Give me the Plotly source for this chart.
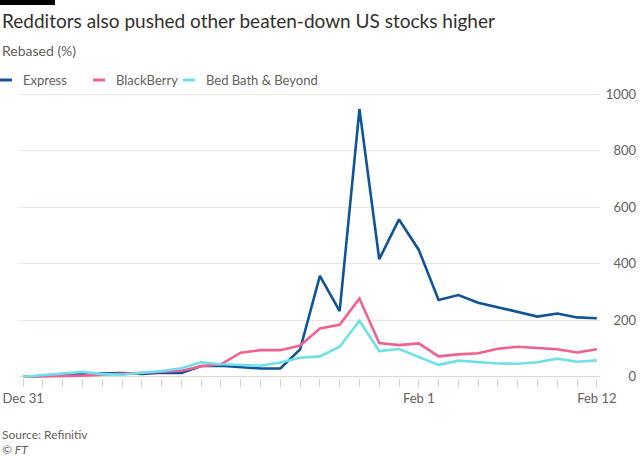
import plotly.graph_objects as go

dates = ["Dec 31", "Jan 4", "Jan 5", "Jan 6", "Jan 7", "Jan 8", "Jan 11", "Jan 12",
         "Jan 13", "Jan 14", "Jan 15", "Jan 19", "Jan 20", "Jan 21", "Jan 22",
         "Jan 25", "Jan 26", "Jan 27", "Jan 28", "Jan 29", "Feb 1", "Feb 2",
         "Feb 3", "Feb 4", "Feb 5", "Feb 8", "Feb 9", "Feb 10", "Feb 11", "Feb 12"]

express = [0, 2, 5, 9, 10, 13, 10, 14, 13, 38, 39, 34, 29, 29, 97, 357, 232, 948,
           416, 557, 449, 272, 289, 262, 245, 230, 213, 224, 210, 207]
blackberry = [0, 1, 2, 4, 7, 11, 15, 17, 21, 37, 44, 85, 94, 94, 110, 171, 184, 277,
              119, 112, 118, 72, 79, 83, 99, 106, 102, 97, 86, 97]
bedbath = [0, 5, 11, 17, 9, 7, 14, 20, 30, 51, 44, 41, 39, 50, 67, 72, 106, 198,
           91, 98, 71, 42, 57, 51, 47, 46, 51, 64, 53, 58]

series_names = ["Express", "BlackBerry", "Bed Bath & Beyond"]
series_values = [express, blackberry, bedbath]
series_colors = ["#0f5499", "#f2608f", "#6fe0eb"]

x_labels = {"Dec 31": "Dec 31", "Feb 1": "Feb 1", "Feb 12": "Feb 12"}
y_ticks = [0, 200, 400, 600, 800, 1000]

W, H = 640, 457
FONT = "Lato"
GREY = "#66605c"

fig = go.Figure()
for name, vals, col in zip(series_names, series_values, series_colors):
    fig.add_trace(go.Scatter(
        x=list(range(len(dates))), y=vals, name=name, mode="lines",
        line=dict(color=col, width=2.6), hoverinfo="skip", showlegend=False))

# plot area in pixels
x0, x1 = 19, 600
ybot, ytop = 378.4, 93.2  # pixels for y range ends

fig.update_layout(
    width=W, height=H,
    margin=dict(l=0, r=0, t=0, b=0, autoexpand=False),
    paper_bgcolor="white", plot_bgcolor="white",
    font=dict(family=FONT, color=GREY, size=13),
    showlegend=False,
    xaxis=dict(
        domain=[x0 / W, x1 / W],
        range=[-0.21, 29.16],
        tickmode="array",
        tickvals=list(range(len(dates))),
        ticktext=[x_labels.get(d, "") for d in dates],
        ticks="outside", ticklen=8, tickcolor="#d9d2cc", tickwidth=1,
        showgrid=False, zeroline=False, showline=False,
        tickfont=dict(size=13, color=GREY),
    ),
    yaxis=dict(
        domain=[(H - ybot) / H, (H - ytop) / H],
        range=[-6, 1004],
        tickvals=y_ticks,
        anchor="free", position=636 / W, side="left",
        showgrid=True, gridcolor="#ede6e0", gridwidth=1,
        zeroline=True, zerolinecolor="#ddd6d0", zerolinewidth=1,
        showline=False, ticks="",
        tickfont=dict(size=13, color=GREY),
    ),
)

# legend (line key + label) built from the series lists
legend_x = [0, 93, 183]
legend_y = 1 - 80 / H
for lx, name, col in zip(legend_x, series_names, series_colors):
    fig.add_shape(type="line", xref="paper", yref="paper",
                  x0=lx / W, x1=(lx + 12) / W, y0=legend_y, y1=legend_y,
                  line=dict(color=col, width=3))
    fig.add_annotation(text=name.replace("&", "&amp;"), xref="paper", yref="paper",
                       x=(lx + 21) / W, y=legend_y, xanchor="left", yanchor="middle",
                       showarrow=False, font=dict(family=FONT, size=13, color=GREY))

# FT top bar
fig.add_shape(type="rect", xref="paper", yref="paper",
              x0=0, x1=55 / W, y0=1 - 5 / H, y1=1,
              fillcolor="#000000", line=dict(width=0), layer="above")

fig.add_annotation(text="Redditors also pushed other beaten-down US stocks higher",
                   xref="paper", yref="paper", x=0, y=1 - 21 / H,
                   xanchor="left", yanchor="middle", showarrow=False,
                   font=dict(family=FONT, size=19, color="#33302e"))
fig.add_annotation(text="Rebased (%)",
                   xref="paper", yref="paper", x=0, y=1 - 50 / H,
                   xanchor="left", yanchor="middle", showarrow=False,
                   font=dict(family=FONT, size=14, color=GREY))
fig.add_annotation(text="Source: Refinitiv",
                   xref="paper", yref="paper", x=0, y=1 - 434 / H,
                   xanchor="left", yanchor="middle", showarrow=False,
                   font=dict(family=FONT, size=12, color=GREY))
fig.add_annotation(text="<i>© FT</i>",
                   xref="paper", yref="paper", x=0, y=1 - 449 / H,
                   xanchor="left", yanchor="middle", showarrow=False,
                   font=dict(family=FONT, size=12, color=GREY))

fig.write_html("out.html", config={"displayModeBar": False},
               post_script="document.body.style.margin='0';")
